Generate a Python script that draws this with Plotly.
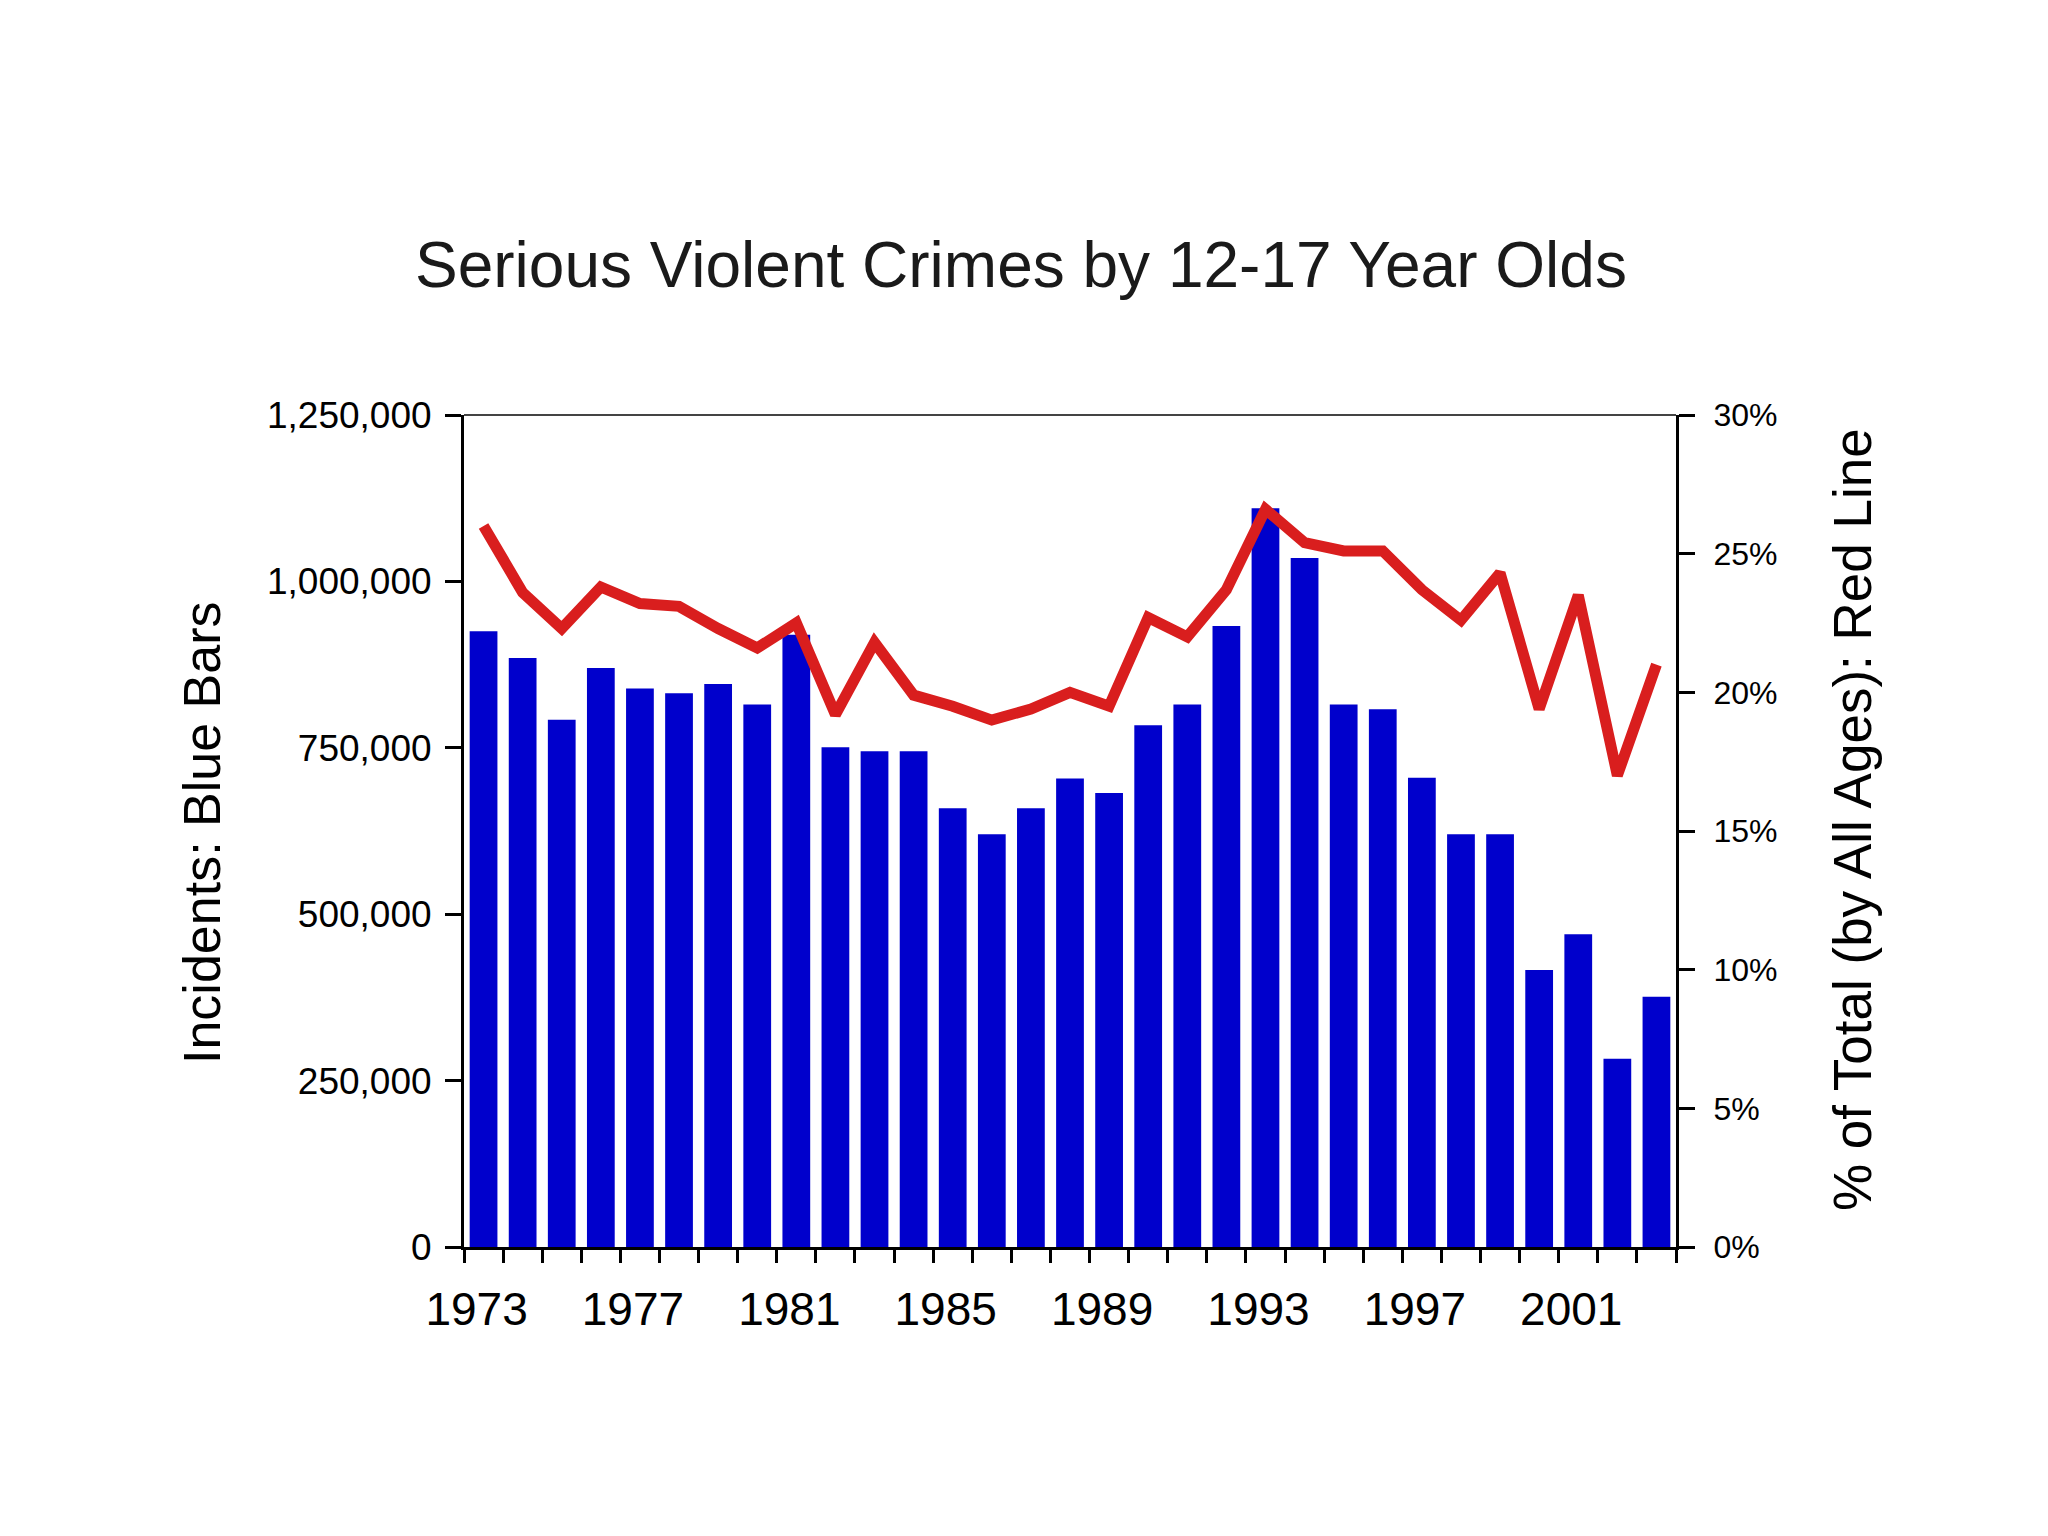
import plotly.graph_objects as go

# ---- data ----
years = list(range(1973, 2004))
incidents = [925000, 885000, 792000, 870000, 839000, 832000, 846000, 815000,
             920000, 751000, 745000, 745000, 659000, 620000, 659000, 704000,
             682000, 784000, 815000, 933000, 1110000, 1035000, 815000, 808000,
             705000, 620000, 620000, 416000, 470000, 283000, 376000]
pct_of_total = [26.0, 23.6, 22.3, 23.8, 23.2, 23.1, 22.3, 21.6, 22.5, 19.2,
                21.8, 19.9, 19.5, 19.0, 19.4, 20.0, 19.5, 22.7, 22.0, 23.7,
                26.6, 25.4, 25.1, 25.1, 23.7, 22.6, 24.3, 19.4, 23.5, 17.0, 21.0]
label_years = [1973, 1977, 1981, 1985, 1989, 1993, 1997, 2001]
left_ticks = [0, 250000, 500000, 750000, 1000000, 1250000]
right_ticks = [0, 5, 10, 15, 20, 25, 30]

FONT = "Liberation Sans, Arial, sans-serif"
BLUE = "#0000cc"
RED = "#d91e1e"

x_range = [years[0] - 0.5, years[-1] + 0.5]
boundaries = [y - 0.5 for y in years] + [years[-1] + 0.5]
y_range = [0, left_ticks[-1]]
y2_range = [0, right_ticks[-1]]

fig = go.Figure()
fig.add_trace(go.Bar(x=years, y=incidents, marker=dict(color=BLUE, line=dict(width=0)),
                     name="Incidents", xaxis="x", yaxis="y"))
fig.add_trace(go.Scatter(x=years, y=pct_of_total, mode="lines",
                         line=dict(color=RED, width=11), name="% of Total",
                         xaxis="x2", yaxis="y2"))

axis_common = dict(showgrid=False, zeroline=False)

fig.update_layout(
    width=2048, height=1536, autosize=False,
    paper_bgcolor="white", plot_bgcolor="white",
    margin=dict(l=464, r=372, t=415, b=289, pad=0),
    showlegend=False, bargap=0.29,
    font=dict(family=FONT, color="black"),
    title=dict(text="Serious Violent Crimes by 12-17 Year Olds",
               x=0.4985, xref="container", xanchor="center",
               y=1 - 265 / 1536, yref="container", yanchor="middle",
               font=dict(size=64, family=FONT, color="#1a1a1a")),
    # bar x-axis: tick marks at category boundaries (outside)
    xaxis=dict(range=x_range, tickmode="array", tickvals=boundaries,
               ticks="outside", ticklen=13, tickwidth=3, tickcolor="black",
               showticklabels=False, showline=True, linewidth=3, linecolor="black",
               **axis_common),
    # label axis for years
    xaxis2=dict(range=x_range, overlaying="x", anchor="y", side="bottom",
                tickmode="array", tickvals=label_years,
                ticktext=[str(y) for y in label_years],
                ticks="", showline=False, ticklabelstandoff=31, ticklabelshift=-7,
                tickfont=dict(size=46, family=FONT, color="black"), **axis_common),
    # inside half of crossing tick marks
    xaxis3=dict(range=x_range, overlaying="x", anchor="y", side="bottom",
                tickmode="array", tickvals=boundaries, ticks="inside",
                ticklen=10, tickwidth=3, tickcolor="black",
                showticklabels=False, showline=False, **axis_common),
    yaxis=dict(range=y_range, tickmode="array", tickvals=left_ticks,
               ticktext=[f"{v:,}" for v in left_ticks],
               ticks="outside", ticklen=16, tickwidth=3, tickcolor="black",
               ticklabelstandoff=6,
               showline=True, linewidth=3, linecolor="black",
               tickfont=dict(size=37, family=FONT, color="black"), **axis_common),
    yaxis2=dict(range=y2_range, overlaying="y", side="right", anchor="x",
                tickmode="array", tickvals=right_ticks,
                ticktext=[f"{v}%" for v in right_ticks],
                ticks="outside", ticklen=16, tickwidth=3, tickcolor="black",
                ticklabelstandoff=12,
                showline=True, linewidth=3, linecolor="black",
                tickfont=dict(size=32, family=FONT, color="black"), **axis_common),
    yaxis3=dict(range=y_range, overlaying="y", side="left", anchor="x",
                tickmode="array", tickvals=left_ticks, ticks="inside",
                ticklen=9, tickwidth=3, tickcolor="black",
                showticklabels=False, showline=False, **axis_common),
    yaxis4=dict(range=y2_range, overlaying="y", side="right", anchor="x",
                tickmode="array", tickvals=right_ticks, ticks="inside",
                ticklen=9, tickwidth=3, tickcolor="black",
                showticklabels=False, showline=False, **axis_common),
    shapes=[dict(type="line", xref="paper", yref="paper", x0=0, x1=1, y0=1, y1=1,
                 line=dict(color="#444444", width=2))],
    annotations=[
        dict(text="Incidents: Blue Bars", textangle=-90, xref="paper", yref="paper",
             x=(202 - 464) / 1212, y=(1247 - 833) / 832, xanchor="center", yanchor="middle",
             showarrow=False, font=dict(size=52, family=FONT, color="black")),
        dict(text="% of Total (by All Ages): Red Line", textangle=-90,
             xref="paper", yref="paper",
             x=(1852 - 464) / 1212, y=(1247 - 820) / 832, xanchor="center", yanchor="middle",
             showarrow=False, font=dict(size=53, family=FONT, color="black")),
    ],
)

fig.write_html("out.html", config={"displayModeBar": False},
               post_script="document.body.style.margin='0';")
